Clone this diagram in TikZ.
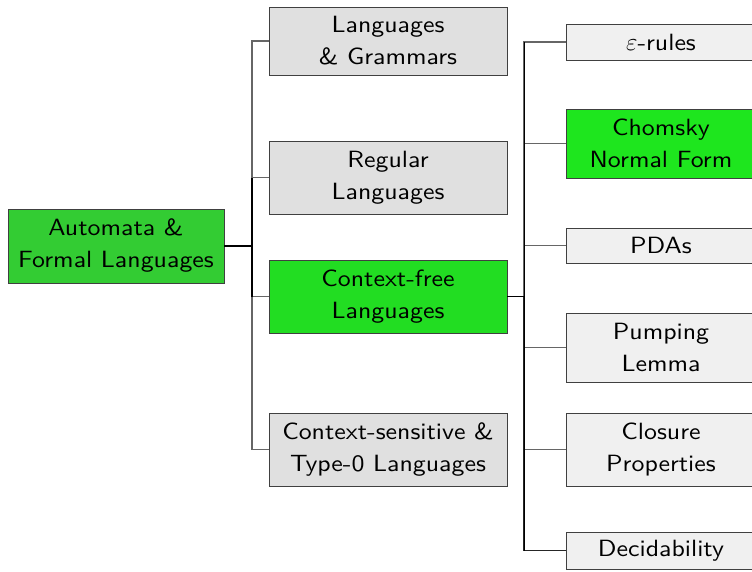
\documentclass[tikz,border=0pt]{standalone}
\usepackage{fontspec}
\newfontfamily\boxfont{lmsans10-regular.otf}[FakeStretch=1.10]
\begin{document}
\begin{tikzpicture}[x=1pt,y=-1pt,
  box/.style={draw=black!75,line width=0.9pt,rectangle,align=center,inner sep=0pt,
    font=\boxfont\fontsize{23.5}{32}\selectfont},
  rootbox/.style={box,fill=rootgreen,minimum width=216pt,minimum height=74pt},
  lone/.style={box,fill=black!12,minimum width=238pt},
  ltwo/.style={box,fill=black!6,minimum width=190pt},
  hl/.style={fill=hlgreen},
  conn/.style={draw=black!60,line width=1.1pt},
  hot/.style={draw=black,line width=1.3pt}]
\definecolor{rootgreen}{HTML}{33CC33}
\definecolor{hlgreen}{HTML}{22DD22}
\definecolor{hlgreenb}{HTML}{1EE61E}
\useasboundingbox (0,0) rectangle (752,571);
\node[rootbox] (root) at (116,246) {Automata \&\\Formal Languages};
\node[lone,minimum height=68pt] (lg) at (388,41) {Languages\\\& Grammars};
\node[lone,minimum height=73pt] (reg) at (388,177.5) {Regular\\Languages};
\node[lone,hl,minimum height=73pt] (cf) at (388,296.5) {Context-free\\Languages};
\node[lone,minimum height=73pt] (cs) at (388,449.5) {Context-sensitive \&\\Type-0 Languages};
\node[ltwo,minimum height=36pt] (eps) at (661,42) {$\varepsilon$-rules};
\node[ltwo,fill=hlgreenb,minimum height=69pt] (cnf) at (661,143.5) {Chomsky\\Normal Form};
\node[ltwo,minimum height=35pt] (pda) at (661,245.5) {PDAs};
\node[ltwo,minimum height=69pt] (pump) at (661,347.5) {Pumping\\Lemma};
\node[ltwo,minimum height=73pt] (clo) at (661,449.5) {Closure\\Properties};
\node[ltwo,minimum height=37pt] (dec) at (661,550.5) {Decidability};
\coordinate (j1) at (252,246);
\coordinate (j2) at (524,296.5);
\path[conn] (j1) |- (lg.west);
\path[conn] (j1) |- (reg.west);
\path[conn] (j1) |- (cs.west);
\path[conn] (j1) |- (cf.west);
\path[hot] (reg.west -| j1) -- (cf.west -| j1);
\path[conn] (j2) |- (eps.west);
\path[conn] (j2) |- (cnf.west);
\path[conn] (j2) |- (pda.west);
\path[conn] (j2) |- (pump.west);
\path[conn] (j2) |- (clo.west);
\path[conn,draw=black!85] (j2) |- (dec.west);
\path[hot,line width=1pt] (eps.west -| j2) -- (dec.west -| j2);
\path[hot] (root.east) -- (j1);
\path[hot] (cf.east) -- (j2);
\end{tikzpicture}
\end{document}
